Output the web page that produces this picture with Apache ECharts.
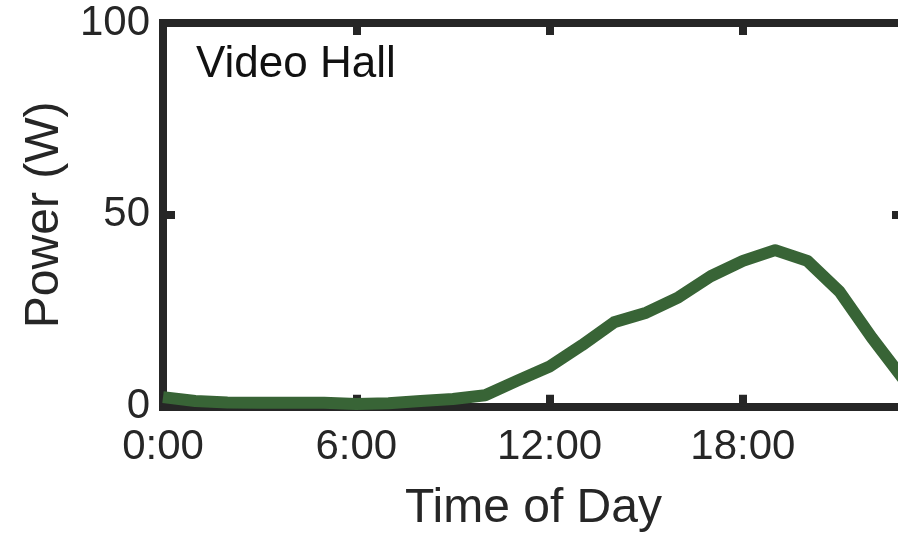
<!DOCTYPE html>
<html>
<head>
<meta charset="utf-8">
<script src="https://cdn.jsdelivr.net/npm/echarts@6/dist/echarts.min.js"></script>
<style>
html,body{margin:0;padding:0;background:#fff;overflow:hidden;}
#chart{width:920px;height:536px;}
</style>
</head>
<body>
<div id="chart"></div>
<script>
// Data
var hours = ['0:00','1:00','2:00','3:00','4:00','5:00','6:00','7:00','8:00','9:00','10:00','11:00',
             '12:00','13:00','14:00','15:00','16:00','17:00','18:00','19:00','20:00','21:00','22:00','23:00'];
var power = [2.5, 1.5, 1.1, 1.0, 1.0, 1.0, 0.7, 0.9, 1.5, 2.0, 3.0, 6.8,
             10.5, 16, 22, 24.5, 28.5, 34, 38, 40.8, 38, 30, 18, 7];
var yTicks = [0, 50, 100];
var panelTitle = 'Video Hall';
var xTitle = 'Time of Day';
var yTitle = 'Power (W)';

var FONT = '"Liberation Sans", Arial, Helvetica, sans-serif';
var AX = '#262626';

var chart = echarts.init(document.getElementById('chart'), null, {renderer: 'canvas'});
var axisLine = {show: true, onZero: false, lineStyle: {color: AX, width: 8, cap: 'square'}};
var axisTick = {show: true, inside: true, length: 12, lineStyle: {color: AX, width: 8}};

chart.setOption({
  animation: false,
  backgroundColor: '#fff',
  title: {
    text: panelTitle, left: 191, top: 38,
    textStyle: {fontFamily: FONT, fontSize: 44, fontWeight: 'normal', color: '#111'}
  },
  grid: {left: 163, top: 23, width: 741, height: 383.7, containLabel: false, outerBoundsMode: 'none'},
  xAxis: [{
    type: 'category', data: hours, boundaryGap: false, position: 'bottom',
    axisLine: axisLine,
    axisTick: Object.assign({}, axisTick, {interval: 5}),
    axisLabel: {interval: 5, margin: 20, color: AX, fontFamily: FONT, fontSize: 42},
    splitLine: {show: false},
    name: xTitle, nameLocation: 'middle', nameGap: 78,
    nameTextStyle: {fontFamily: FONT, fontSize: 48, color: AX}
  }, {
    type: 'category', data: hours, boundaryGap: false, position: 'top',
    axisLine: axisLine,
    axisTick: Object.assign({}, axisTick, {interval: 5}),
    axisLabel: {show: false}, splitLine: {show: false}
  }],
  yAxis: [{
    type: 'value', min: yTicks[0], max: yTicks[yTicks.length - 1], interval: yTicks[1] - yTicks[0],
    position: 'left',
    axisLine: axisLine, axisTick: axisTick,
    axisLabel: {margin: 13, color: AX, fontFamily: FONT, fontSize: 42},
    splitLine: {show: false},
    name: yTitle, nameLocation: 'middle', nameGap: 92, nameRotate: 90,
    nameTextStyle: {fontFamily: FONT, fontSize: 48, color: AX}
  }, {
    type: 'value', min: yTicks[0], max: yTicks[yTicks.length - 1], interval: yTicks[1] - yTicks[0],
    position: 'right',
    axisLine: axisLine, axisTick: axisTick,
    axisLabel: {show: false}, splitLine: {show: false}
  }],
  series: [{
    type: 'line', data: power, xAxisIndex: 0, yAxisIndex: 0,
    showSymbol: false, symbol: 'none', smooth: false, clip: true,
    lineStyle: {color: '#386436', width: 12, join: 'round', cap: 'butt'},
    z: 5
  }]
});
</script>
</body>
</html>
